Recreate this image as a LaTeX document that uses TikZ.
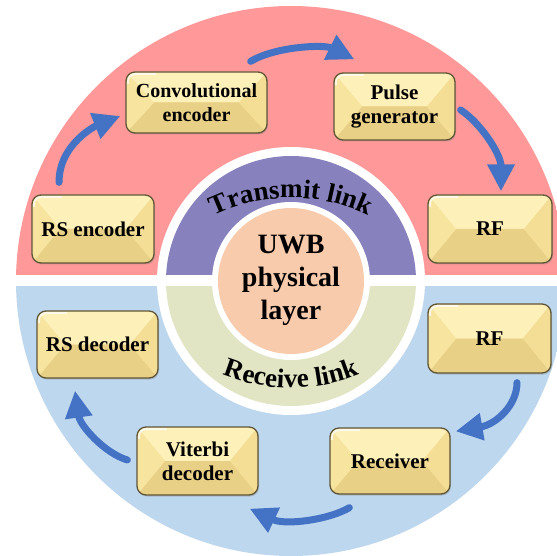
\documentclass[tikz,border=0pt]{standalone}
\usepackage{fontspec}
\setmainfont{Liberation Serif}
\usetikzlibrary{arrows.meta,decorations.text,shadows}
\definecolor{pinkc}{RGB}{255,153,153}
\definecolor{bluec}{RGB}{189,215,238}
\definecolor{purplec}{RGB}{135,129,189}
\definecolor{greenc}{RGB}{225,229,195}
\definecolor{orangec}{RGB}{248,203,173}
\definecolor{arrowc}{RGB}{68,114,196}
\definecolor{boxface}{RGB}{250,230,160}
\definecolor{boxtop}{RGB}{254,240,185}
\definecolor{boxbot}{RGB}{232,208,134}
\definecolor{boxleft}{RGB}{247,228,158}
\definecolor{boxright}{RGB}{244,222,150}
\definecolor{boxline}{RGB}{95,85,55}
\begin{document}
\begin{tikzpicture}[x=1pt,y=1pt,
  box/.style 2 args={draw=boxline, line width=1.3pt, rounded corners=9pt,
    minimum width=#1, minimum height=#2, inner sep=0pt, align=center,
    font=\fontsize{21}{24}\selectfont\bfseries, fill=boxface,
    drop shadow={shadow xshift=1pt, shadow yshift=-1.5pt, opacity=0.35},
    path picture={
      \fill[boxtop, sharp corners] (path picture bounding box.north west) -- (path picture bounding box.north east)
        -- ([xshift=-28pt]path picture bounding box.east) -- ([xshift=28pt]path picture bounding box.west) -- cycle;
      \fill[boxbot, sharp corners] (path picture bounding box.south west) -- (path picture bounding box.south east)
        -- ([xshift=-28pt]path picture bounding box.east) -- ([xshift=28pt]path picture bounding box.west) -- cycle;
      \fill[boxleft, sharp corners] (path picture bounding box.north west) -- ([xshift=28pt]path picture bounding box.west)
        -- (path picture bounding box.south west) -- cycle;
      \fill[boxright, sharp corners] (path picture bounding box.north east) -- ([xshift=-28pt]path picture bounding box.east)
        -- (path picture bounding box.south east) -- cycle;
      \draw[white, opacity=0.7, line width=2pt, rounded corners=7pt]
        ([xshift=2pt,yshift=-12pt]path picture bounding box.north west) -- ([xshift=2pt,yshift=-2pt]path picture bounding box.north west)
        -- ([xshift=30pt,yshift=-2pt]path picture bounding box.north west);
    }},
  flow/.style={draw=arrowc, line width=7pt, line cap=round,
    -{Triangle[length=27pt,width=26pt]}},
  ringtext/.style={decorate, decoration={text along path, text align=center, text={#1}}}
]
\useasboundingbox (0,0) rectangle (557,555);
\clip (0,0) rectangle (557,555);
\fill[white] (0,0) rectangle (557,555);

% outer disc split in two halves
\begin{scope}
  \clip (291,274) circle (275);
  \fill[pinkc] (0,279.5) rectangle (600,600);
  \fill[bluec] (0,268.5) rectangle (600,-50);
\end{scope}
\fill[white] (291,274) circle (134);
\begin{scope}
  \clip (291,274) circle (125);
  \fill[purplec] (0,279.5) rectangle (600,600);
  \fill[greenc] (0,268.5) rectangle (600,-50);
\end{scope}
\fill[white] (291,274) circle (79);
\fill[orangec] (291,274) circle (73);

\node[font=\fontsize{28}{33}\selectfont\bfseries, align=center] (uwb) at (291,275) {UWB\\physical\\layer};

\path[ringtext={|\fontsize{27}{27}\selectfont\bfseries|Transmit link}]
  (291,177) ++(130:180) arc[start angle=130, end angle=50, radius=180];
\path[ringtext={|\fontsize{27}{27}\selectfont\bfseries|Receive link}]
  (291,347) ++(230:180) arc[start angle=230, end angle=310, radius=180];

% boxes
\node[box={122pt}{68pt}] (rsenc) at (93,326) {RS encoder};
\node[box={141pt}{61pt}, font=\fontsize{20}{24}\selectfont\bfseries] (conv) at (196.5,452.5) {Convolutional\\encoder};
\node[box={121pt}{67pt}] (pulse) at (394.5,448.5) {Pulse\\generator};
\node[box={124pt}{68pt}] (rftx) at (490,326) {RF};
\node[box={123pt}{69pt}] (rfrx) at (489.5,216.5) {RF};
\node[box={120pt}{66pt}] (recv) at (390,94) {Receiver};
\node[box={121pt}{68pt}] (vit) at (197.5,94) {Viterbi\\decoder};
\node[box={121pt}{67pt}] (rsdec) at (97.5,210.5) {RS decoder};

% arrows
\draw[flow] ([shift={(-34,12)}]rsenc.north) .. controls +(0,38) and +(-25,-10) .. ([shift={(-5,-13.5)}]conv.west);
\draw[flow] ([shift={(-17,10)}]conv.north east) .. controls +(25,15) and +(-30,15) .. ([shift={(21,13)}]pulse.north west);
\draw[flow] ([shift={(5,-3.5)}]pulse.east) .. controls +(20,-13) and +(0,37) .. ([shift={(11,3)}]rftx.north);
\draw[flow] ([shift={(27.5,-9)}]rfrx.south) .. controls +(0,-23) and +(40,7) .. ([shift={(5,-4)}]recv.north east);
\draw[flow] ([shift={(20,-13)}]recv.south west) .. controls +(-20,-12) and +(36,-17) .. ([shift={(-9,-13)}]vit.south east);
\draw[flow] ([shift={(-9,1)}]vit.west) .. controls +(-23,7) and +(5,-35) .. ([shift={(-22.5,-12)}]rsdec.south);
\end{tikzpicture}
\end{document}
